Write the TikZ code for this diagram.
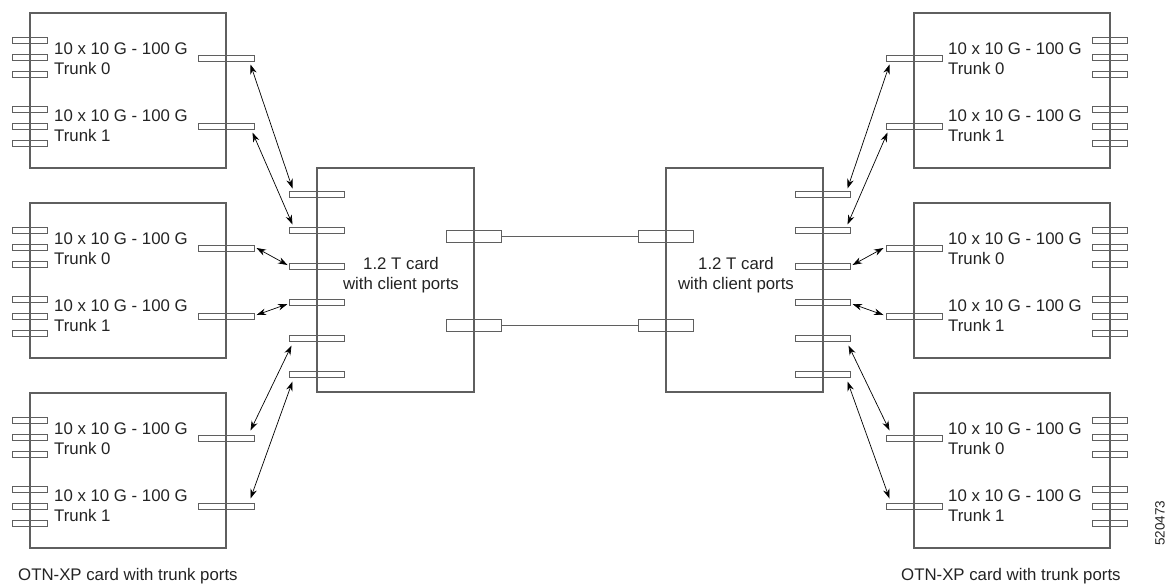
\documentclass[tikz,border=0pt]{standalone}
\usepackage{fontspec}
\setmainfont{Liberation Sans}
\usepackage{xcolor}
\usepackage{tikz}
\usetikzlibrary{arrows.meta,calc}
\definecolor{cardgray}{RGB}{95,95,95}
\definecolor{labelgray}{RGB}{35,35,35}
\tikzset{
  card/.style={draw=cardgray, line width=1.1pt},
  txport/.style={draw=cardgray, line width=1pt, rectangle, minimum width=35pt, minimum height=6pt, inner sep=0pt},
  trunkport/.style={txport, minimum width=56pt},
  clientport/.style={txport, minimum width=55pt},
  lineport/.style={txport, minimum width=55pt, minimum height=12pt},
  fibre/.style={draw=cardgray, line width=1pt},
  cardtext/.style={text=labelgray, font=\fontsize{16.8}{20}\selectfont, inner sep=0pt, align=left},
  link/.style={<->, >={Stealth[length=9.5pt,width=6.5pt]}, line width=0.7pt},
}

\begin{document}
\begin{tikzpicture}[x=1pt, y=-1pt]
    \useasboundingbox (0,0) rectangle (1167,584);
    % OTN-XP cards, left column
    \foreach \t/\n in {13/1,203/2,393/3}{
      \draw[card] (30,\t) rectangle (226,\t+155);
      \foreach \dy [count=\k] in {27,44,61,96,113,130}
        \node[txport] (L\n-tx\k) at (30,\t+\dy) {};
      \node[trunkport] (L\n-t0) at (226,\t+45) {};
      \node[trunkport] (L\n-t1) at (226,\t+113) {};
      \node[cardtext, anchor=west] (L\n-lab0) at (54,\t+46) {10 x 10 G - 100 G\\Trunk 0};
      \node[cardtext, anchor=west] (L\n-lab1) at (54,\t+113) {10 x 10 G - 100 G\\Trunk 1};
    }
    % OTN-XP cards, right column
    \foreach \t/\n in {13/1,203/2,393/3}{
      \draw[card] (914,\t) rectangle (1110,\t+155);
      \foreach \dy [count=\k] in {27,44,61,96,113,130}
        \node[txport] (R\n-tx\k) at (1110,\t+\dy) {};
      \node[trunkport] (R\n-t0) at (914,\t+45) {};
      \node[trunkport] (R\n-t1) at (914,\t+113) {};
      \node[cardtext, anchor=west] (R\n-lab0) at (948,\t+46) {10 x 10 G - 100 G\\Trunk 0};
      \node[cardtext, anchor=west] (R\n-lab1) at (948,\t+113) {10 x 10 G - 100 G\\Trunk 1};
    }
    % 1.2 T cards
    \draw[card] (317,168) rectangle (474,392);
    \draw[card] (666,168) rectangle (823,392);
    \foreach \y [count=\k] in {194,230,266,302,338,374}{
      \node[clientport] (Lc\k) at (317,\y) {};
      \node[clientport] (Rc\k) at (823,\y) {};
    }
    \node[lineport] (Ll1) at (474,236) {};
    \node[lineport] (Ll2) at (474,325) {};
    \node[lineport] (Rl1) at (666,236) {};
    \node[lineport] (Rl2) at (666,325) {};
    \node[cardtext, align=center] (Lcard) at (401,275) {1.2 T card\\with client ports};
    \node[cardtext, align=center] (Rcard) at (736,275) {1.2 T card\\with client ports};
    % line side between the two 1.2 T cards
    \draw[fibre] (Ll1.east) -- (Rl1.west);
    \draw[fibre] (Ll2.east) -- (Rl2.west);
    % trunk to client links, left
    \draw[link] ($(L1-t0.south east)+(-4,3)$) -- ($(Lc1.north west)+(3.5,-2)$);
    \draw[link] ($(L1-t1.south east)+(-2,3)$) -- ($(Lc2.north west)+(3.5,-2)$);
    \draw[link] ($(L2-t0.east)+(2,0)$) -- ($(Lc3.west)+(-1.5,-1)$);
    \draw[link] ($(L2-t1.east)+(2,-1)$) -- ($(Lc4.west)+(-1.5,2)$);
    \draw[link] ($(L3-t0.north east)+(-4,-4)$) -- ($(Lc5.south west)+(2.5,4)$);
    \draw[link] ($(L3-t1.north east)+(-4,-4)$) -- ($(Lc6.south west)+(3.5,4)$);
    % trunk to client links, right
    \draw[link] ($(R1-t0.south west)+(4,3)$) -- ($(Rc1.north east)+(-3.5,-2)$);
    \draw[link] ($(R1-t1.south west)+(2,3)$) -- ($(Rc2.north east)+(-3.5,-2)$);
    \draw[link] ($(R2-t0.west)+(-2,0)$) -- ($(Rc3.east)+(1.5,-1)$);
    \draw[link] ($(R2-t1.west)+(-2,-1)$) -- ($(Rc4.east)+(1.5,2)$);
    \draw[link] ($(R3-t0.north west)+(4,-4)$) -- ($(Rc5.south east)+(-2.5,4)$);
    \draw[link] ($(R3-t1.north west)+(4,-4)$) -- ($(Rc6.south east)+(-3.5,4)$);
    % captions
    \node[cardtext, anchor=base west] (Lcap) at (18,580) {OTN-XP card with trunk ports};
    \node[cardtext, anchor=base west] (Rcap) at (901,580) {OTN-XP card with trunk ports};
    \node[text=labelgray, font=\fontsize{13.5}{16}\selectfont, inner sep=0pt, rotate=90] (figid) at (1160,523) {520473};
\end{tikzpicture}
\end{document}
